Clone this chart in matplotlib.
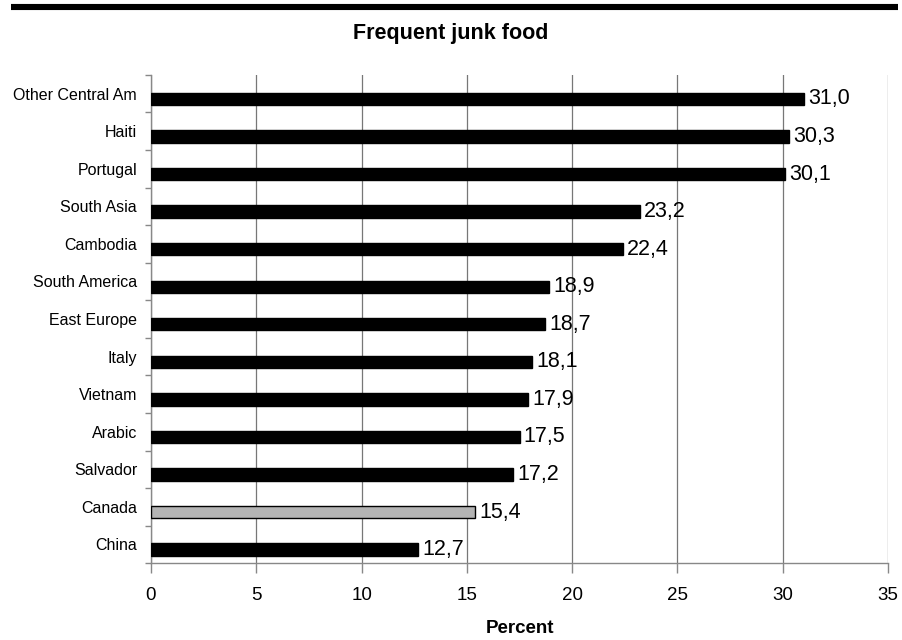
import numpy as np
import matplotlib
matplotlib.use("Agg")
import matplotlib.pyplot as plt
from matplotlib.lines import Line2D

plt.rcParams['font.family'] = ['Liberation Sans', 'DejaVu Sans']

groups = ["Other Central Am", "Haiti", "Portugal", "South Asia", "Cambodia",
          "South America", "East Europe", "Italy", "Vietnam", "Arabic",
          "Salvador", "Canada", "China"]
percent = [31.0, 30.3, 30.1, 23.2, 22.4, 18.9, 18.7, 18.1, 17.9, 17.5,
           17.2, 15.4, 12.7]
xticks = [0, 5, 10, 15, 20, 25, 30, 35]

fig = plt.figure(figsize=(9.02, 6.4), dpi=100)
ax = fig.add_axes([0.1674, 0.120, 0.8171, 0.763])

# heavy rule across the top of the page
fig.add_artist(Line2D([0.012, 0.996], [0.989, 0.989], color='black', lw=4.4,
                      transform=fig.transFigure, solid_capstyle='butt'))

pos = np.arange(len(groups))[::-1]
bar_y = pos - 0.14
colors = ['#b4b4b4' if g == "Canada" else 'black' for g in groups]
ax.barh(bar_y, percent, height=0.33, color=colors, edgecolor='black', lw=1, zorder=3)

for y, v in zip(bar_y, percent):
    ax.text(v + 0.2, y, f"{v:.1f}".replace('.', ','), va='center', ha='left',
            fontsize=15.5, zorder=4)

ax.set_xlim(0, 35)
ax.set_ylim(-0.5, len(groups) - 0.5)
ax.set_xticks(xticks)
ax.set_xticklabels([str(t) for t in xticks], fontsize=13.5)
ax.tick_params(axis='x', length=7, width=1, color='#888888', pad=10)

ax.set_yticks(pos)
ax.set_yticklabels(groups, fontsize=11.5)
ax.set_yticks(np.arange(len(groups) + 1) - 0.5, minor=True)
ax.tick_params(axis='y', which='major', length=0, pad=10)
ax.tick_params(axis='y', which='minor', length=4, width=1, color='#888888')

ax.grid(axis='x', color='#777777', lw=0.9, zorder=0)
for s in ['top', 'right']:
    ax.spines[s].set_visible(False)
for s in ['left', 'bottom']:
    ax.spines[s].set_color('#888888')
    ax.spines[s].set_linewidth(1)

ax.set_xlabel("Percent", fontsize=13.5, fontweight='bold', labelpad=12)
fig.text(0.5, 0.948, "Frequent junk food", ha='center', va='center',
         fontsize=15.5, fontweight='bold')

fig.savefig("out.png", dpi=100)
